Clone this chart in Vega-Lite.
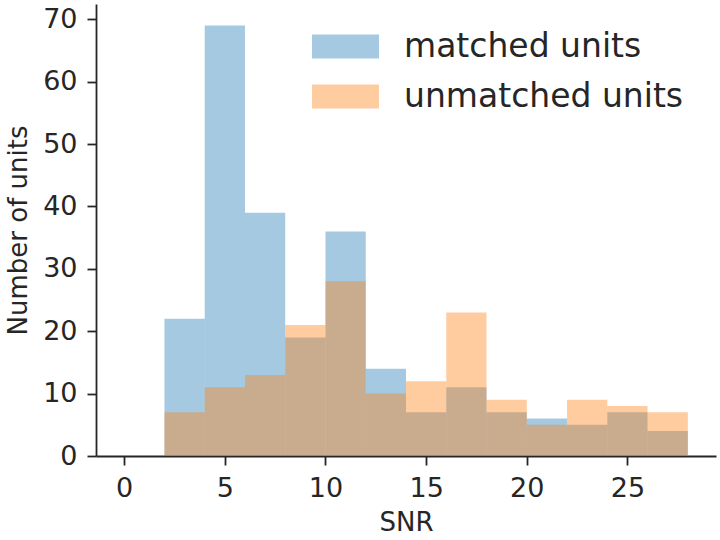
{
  "$schema": "https://vega.github.io/schema/vega-lite/v6.json",
  "autosize": {"type": "none"},
  "width": 620,
  "height": 452,
  "padding": {"left": 96, "top": 4, "right": 4, "bottom": 84},
  "background": "white",
  "config": {
    "view": {"stroke": null},
    "font": "DejaVu Sans",
    "axis": {
      "labelFont": "DejaVu Sans",
      "titleFont": "DejaVu Sans",
      "labelFontSize": 27,
      "titleFontSize": 26,
      "titleFontWeight": "normal",
      "labelColor": "#262626",
      "titleColor": "#262626",
      "domainColor": "#262626",
      "tickColor": "#262626",
      "domainWidth": 1.8,
      "tickWidth": 1.8,
      "tickSize": 9,
      "grid": false,
      "labelPadding": 10
    }
  },
  "data": {
    "values": [
      {"group": "matched units", "start": 2, "end": 4, "count": 22},
      {"group": "matched units", "start": 4, "end": 6, "count": 69},
      {"group": "matched units", "start": 6, "end": 8, "count": 39},
      {"group": "matched units", "start": 8, "end": 10, "count": 19},
      {"group": "matched units", "start": 10, "end": 12, "count": 36},
      {"group": "matched units", "start": 12, "end": 14, "count": 14},
      {"group": "matched units", "start": 14, "end": 16, "count": 7},
      {"group": "matched units", "start": 16, "end": 18, "count": 11},
      {"group": "matched units", "start": 18, "end": 20, "count": 7},
      {"group": "matched units", "start": 20, "end": 22, "count": 6},
      {"group": "matched units", "start": 22, "end": 24, "count": 5},
      {"group": "matched units", "start": 24, "end": 26, "count": 7},
      {"group": "matched units", "start": 26, "end": 28, "count": 4},
      {"group": "unmatched units", "start": 2, "end": 4, "count": 7},
      {"group": "unmatched units", "start": 4, "end": 6, "count": 11},
      {"group": "unmatched units", "start": 6, "end": 8, "count": 13},
      {"group": "unmatched units", "start": 8, "end": 10, "count": 21},
      {"group": "unmatched units", "start": 10, "end": 12, "count": 28},
      {"group": "unmatched units", "start": 12, "end": 14, "count": 10},
      {"group": "unmatched units", "start": 14, "end": 16, "count": 12},
      {"group": "unmatched units", "start": 16, "end": 18, "count": 23},
      {"group": "unmatched units", "start": 18, "end": 20, "count": 9},
      {"group": "unmatched units", "start": 20, "end": 22, "count": 5},
      {"group": "unmatched units", "start": 22, "end": 24, "count": 9},
      {"group": "unmatched units", "start": 24, "end": 26, "count": 8},
      {"group": "unmatched units", "start": 26, "end": 28, "count": 7}
    ]
  },
  "mark": {"type": "rect", "opacity": 0.4, "strokeWidth": 0},
  "encoding": {
    "x": {
      "field": "start",
      "type": "quantitative",
      "scale": {"domain": [-1.4, 29.4], "nice": false, "zero": false},
      "axis": {"values": [0, 5, 10, 15, 20, 25], "title": "SNR", "titlePadding": 8}
    },
    "x2": {"field": "end"},
    "y": {
      "field": "count",
      "type": "quantitative",
      "stack": null,
      "scale": {"domain": [0, 72.45], "nice": false},
      "axis": {"values": [0, 10, 20, 30, 40, 50, 60, 70], "title": "Number of units", "titlePadding": 11}
    },
    "y2": {"datum": 0},
    "color": {
      "field": "group",
      "type": "nominal",
      "scale": {"domain": ["matched units", "unmatched units"], "range": ["#1f77b4", "#ff7f0e"]},
      "legend": {
        "title": null,
        "orient": "none",
        "legendX": 233,
        "legendY": 26,
        "padding": 0,
        "symbolType": "M-2.79,-1H2.79V1H-2.79Z",
        "symbolSize": 576,
        "symbolOpacity": 0.4,
        "symbolStrokeWidth": 0,
        "labelFont": "DejaVu Sans",
        "labelFontSize": 33,
        "labelColor": "#262626",
        "labelOffset": 42,
        "rowPadding": 16,
        "labelLimit": 400
      }
    }
  }
}
